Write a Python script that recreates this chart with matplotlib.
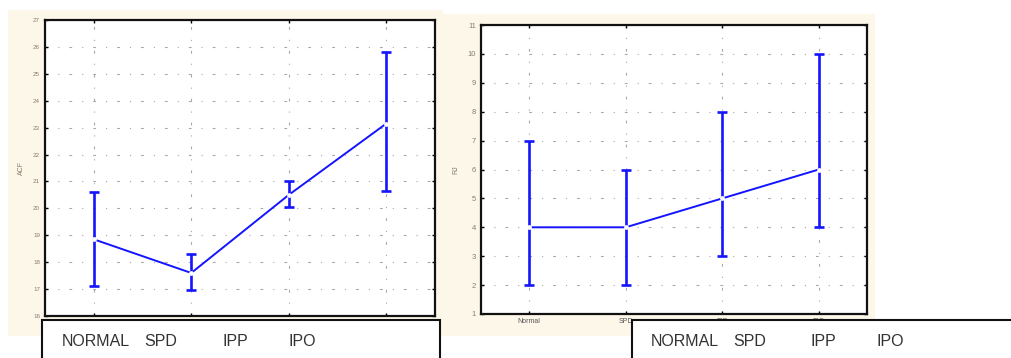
import numpy as np
import matplotlib.pyplot as plt
from matplotlib.patches import Rectangle

plt.rcParams['font.family'] = ['Liberation Sans', 'DejaVu Sans']

groups = ['NORMAL', 'SPD', 'IPP', 'IPO']
tick_names_r = ['Normal', 'SPD', 'IPP', 'IPO']

# ACF: means with lower / upper limits
acf_mean = [18.85, 17.6, 20.5, 23.15]
acf_low = [17.1, 16.95, 20.05, 20.65]
acf_high = [20.6, 18.3, 21.0, 25.8]

# RJ: means with lower / upper limits
rj_mean = [4, 4, 5, 6]
rj_low = [2, 2, 3, 4]
rj_high = [7, 6, 8, 10]

W, H = 1011, 358
fig = plt.figure(figsize=(W / 100, H / 100), dpi=100)
cream = '#fdf7ea'
blue = '#1414ff'


def fx(px):
    return px / W


def fy(py):
    return 1 - py / H


# cream panels behind each plot
fig.patches.append(Rectangle((fx(8), fy(336)), fx(435), 326 / H, transform=fig.transFigure,
                             facecolor=cream, edgecolor='none', zorder=-1))
fig.patches.append(Rectangle((fx(443), fy(336)), fx(432), 322 / H, transform=fig.transFigure,
                             facecolor=cream, edgecolor='none', zorder=-1))


def draw(ax, mean, low, high, ylim, ylabel, tick_fs, names):
    x = np.arange(len(mean))
    mean = np.array(mean, dtype=float)
    err = [mean - np.array(low), np.array(high) - mean]
    ax.set_facecolor('white')
    ax.errorbar(x, mean, yerr=err, fmt='none', ecolor=blue, elinewidth=1.9,
                capsize=3.4, capthick=1.9, zorder=3)
    ax.plot(x, mean, color=blue, lw=1.4, zorder=4)
    ax.plot(x, mean, 'o', ms=2.4, mfc='white', mec='white', zorder=5)
    ax.set_xlim(-0.5, len(mean) - 0.5)
    ax.set_ylim(*ylim)
    ax.set_yticks(np.arange(ylim[0], ylim[1] + 1))
    ax.set_xticks(x)
    ax.set_xticklabels(names, fontsize=5, color='#555555')
    ax.tick_params(axis='y', labelsize=tick_fs, labelcolor='#8a7a6a', direction='in',
                   length=2.5, width=1, right=True)
    ax.tick_params(axis='x', direction='in', length=2.5, width=1, top=True, pad=3)
    ax.grid(True, color='#a8a8a8', lw=0.8, linestyle=(0, (2.5, 9, 1, 9)))
    for s in ax.spines.values():
        s.set_linewidth(1.6)
        s.set_color('#111111')
    ax.set_ylabel(ylabel, fontsize=5, color='#8a7a6a', labelpad=6)


ax1 = fig.add_axes([fx(45), fy(316), fx(390), 296 / H])
draw(ax1, acf_mean, acf_low, acf_high, (16, 27), 'ACF', 4.5, groups)

ax2 = fig.add_axes([fx(481), fy(314), fx(386), 289 / H])
draw(ax2, rj_mean, rj_low, rj_high, (1, 11), 'RJ', 5.5, tick_names_r)

# group caption boxes along the bottom edge
for left, right, xs in [(42, 440, [62, 144, 222, 288]), (632, 1020, [651, 733, 811, 877])]:
    fig.patches.append(Rectangle((fx(left), -0.1), fx(right - left), (H - 320) / H + 0.1,
                                 transform=fig.transFigure, facecolor='white',
                                 edgecolor='#111111', lw=1.5, zorder=10))
    for name, px in zip(groups, xs):
        fig.text(fx(px), fy(341), name, fontsize=11.5, color='#333333',
                 ha='left', va='center', zorder=11)

fig.savefig('out.png', dpi=100)
